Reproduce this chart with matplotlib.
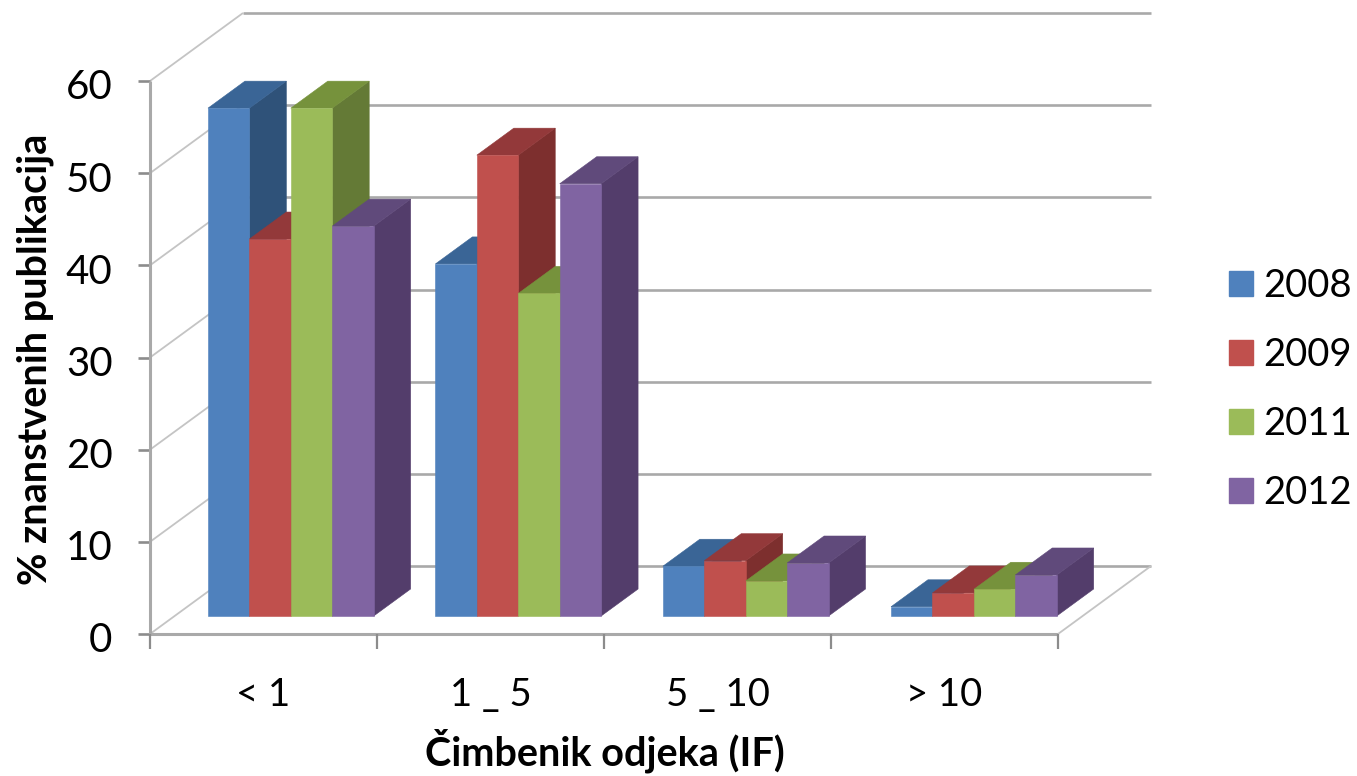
import matplotlib
matplotlib.use("Agg")
import matplotlib.pyplot as plt
from matplotlib.patches import Patch

plt.rcParams['font.family'] = ['Lato', 'DejaVu Sans']

categories = ["< 1", "1 _ 5", "5 _ 10", "> 10"]
years = ["2008", "2009", "2011", "2012"]
v2008 = [55.1, 38.2, 5.4, 1.0]
v2009 = [40.9, 50.0, 6.0, 2.5]
v2011 = [55.1, 35.0, 3.8, 2.9]
v2012 = [42.3, 46.9, 5.75, 4.45]
yticks = [0, 10, 20, 30, 40, 50, 60]

series = [v2008, v2009, v2011, v2012]
front = ["#4f81bd", "#c0504d", "#9bbb59", "#8064a2"]
top = ["#3a6596", "#93393a", "#76923c", "#604a7b"]
side = ["#2f5279", "#7d2f2e", "#647a36", "#533d6b"]
grid = "#a9a9a9"

W, H = 1357, 776
fig = plt.figure(figsize=(W / 100, H / 100), dpi=100)
# axes box = front plane of the 3d chart, 0-4 categories, 0-60 %
ax = fig.add_axes([150 / W, 1 - 634 / H, 908 / W, 553 / H])
ax.set_xlim(0, 4)
ax.set_ylim(0, 60)
ax.axis("off")

# oblique projection: how far the back wall is shifted, in data units
DX = 93 / 227
DY = 68 / (553 / 60)


def proj(x, y, d):
    return x + DX * d, y + DY * d


def line(p, q, **kw):
    kw.setdefault("color", grid)
    kw.setdefault("lw", 1.6)
    ax.plot([p[0], q[0]], [p[1], q[1]], clip_on=False, solid_capstyle="butt", zorder=1, **kw)


# walls and gridlines
for t in yticks:
    line(proj(0, t, 0), proj(0, t, 1), lw=1.3, color="#c4c4c4")
    line(proj(0, t, 1), proj(4, t, 1), lw=1.9)
    line((-0.055, t), (0, t), lw=1.9, color="#8c8c8c")
line((0, 0), (0, 60), lw=2.2)
line((0, 0), (4, 0), lw=2.2)
line(proj(4, 0, 0), proj(4, 0, 1), lw=1.3, color="#c4c4c4")
for i in range(5):
    line((i, 0), (i, -1.6), lw=1.6, color="#8c8c8c")

# bars, left to right so that each one hides the side of the one before
bar_w = 0.1825
d0 = 18 / 68
d1 = d0 + 27 / 68
starts = [0.147, 1.149, 2.151, 3.156]
for i in range(len(categories)):
    for j in range(len(series)):
        x0 = starts[i] + j * bar_w
        x1 = x0 + bar_w
        v = series[j][i]
        s = [proj(x1, 0, d0), proj(x1, 0, d1), proj(x1, v, d1), proj(x1, v, d0)]
        tp = [proj(x0, v, d0), proj(x1, v, d0), proj(x1, v, d1), proj(x0, v, d1)]
        fr = [proj(x0, 0, d0), proj(x1, 0, d0), proj(x1, v, d0), proj(x0, v, d0)]
        for poly, c in ((s, side[j]), (tp, top[j]), (fr, front[j])):
            ax.fill([p[0] for p in poly], [p[1] for p in poly], color=c, lw=0.4,
                    clip_on=False, zorder=3)

# tick labels
for t in yticks:
    ax.annotate(str(t), (0, t), xytext=(-27, -5), textcoords="offset points",
                ha="right", va="center", fontsize=29)
for i, c in enumerate(categories):
    ax.annotate(c, (i + 0.5, 0), xytext=(0, -44), textcoords="offset points",
                ha="center", va="center", fontsize=27.5)

fig.text(605 / W, 1 - 751 / H, "Čimbenik odjeka (IF)", ha="center", va="center",
         fontsize=28.5, fontweight="bold")
fig.text(35 / W, 1 - 359 / H, "% znanstvenih publikacija", ha="center", va="center",
         rotation=90, fontsize=28.5, fontweight="bold")

handles = [Patch(color=c) for c in front]
fig.legend(handles, years, loc="center left", bbox_to_anchor=(1229 / W, 1 - 389.5 / H),
           frameon=False, fontsize=27.5, handlelength=0.63, handleheight=0.63,
           handletextpad=0.27, labelspacing=0.86, borderpad=0, borderaxespad=0)

fig.savefig("out.png", dpi=100)
